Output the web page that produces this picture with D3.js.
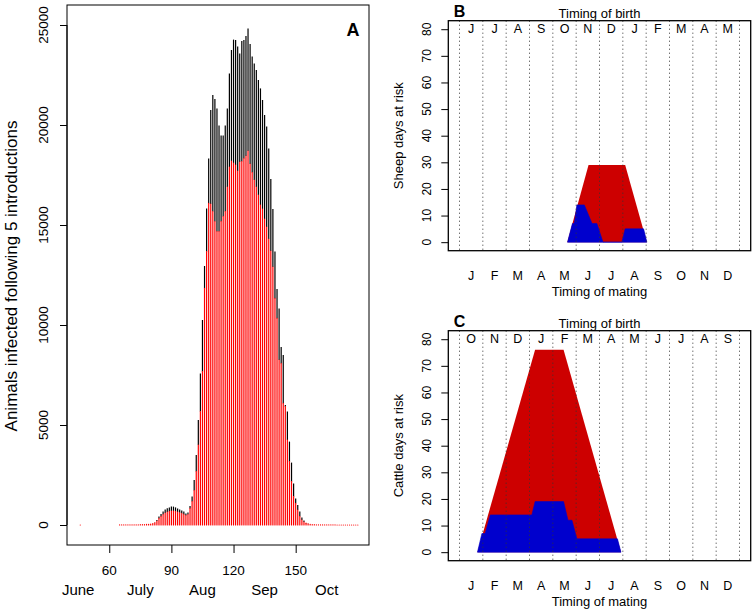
<!DOCTYPE html>
<html><head><meta charset="utf-8">
<script src="https://cdn.jsdelivr.net/npm/d3@7"></script>
<style>
body{margin:0;background:#fff}
svg{display:block}
text{font-family:"Liberation Sans",Arial,Helvetica,sans-serif;fill:#000}
</style>
</head><body>
<svg id="chart" width="754" height="612"></svg>
<script>
// ---------- Panel A data ----------
const loneDay = 46;
const loneValue = 0;
const firstDay = 65;
const totalInfected = [
  2,2,3,3,4,5,6,8,10,12,15,18,22,28,38,            // 65-79
  50,80,130,250,420,550,670,780,840,880,            // 80-89
  920,920,880,830,780,720,670,580,620,950,          // 90-99
  1420,2250,3500,5250,7580,10250,12950,15830,18330,20750, // 100-109
  21500,21300,20830,19980,19470,19470,19980,20830,22580,23750, // 110-119
  24270,24250,23920,23580,24200,24250,24450,24830,24050,23420, // 120-129
  23080,22750,22250,21830,21250,20500,19920,18830,17300,15800, // 130-139
  13670,11800,10830,8900,8500,6000,5670,4170,3120,2080,        // 140-149
  1330,1000,670,380,220,100,60,40,25,15,                       // 150-159
  10,8,6,5,4,3,3,2,2,2,1,1,1,1,1,1,1,1,1,1,1                   // 160-180
];
const redInfected = [
  2,2,3,3,4,5,6,8,10,12,15,18,22,27,35,
  45,70,110,200,330,430,520,600,650,680,
  700,700,680,650,610,570,530,470,520,830,
  1170,1720,2670,4000,5670,7670,11830,13670,16080,16050,
  15670,15170,14670,14670,15170,15420,15670,16900,17900,18200,
  18100,18000,17700,18150,18170,18330,18450,18700,18050,17620,
  17250,16900,16500,16000,15800,15300,14900,14300,13700,12900,
  11330,10330,8250,8080,6080,5920,4250,3170,2170,1420,
  1080,750,420,250,150,90,55,35,22,14,
  10,8,6,5,4,3,3,2,2,2,1,1,1,1,1,1,1,1,1,1,1
];
const dayTicks = [60, 90, 120, 150];
const countTicks = [0, 5000, 10000, 15000, 20000, 25000];
const monthLabelsA = ["June", "July", "Aug", "Sep", "Oct"];
const monthLabelDaysA = [45, 75, 105, 135, 165];

// ---------- Panels B & C data ----------
const matingMonths = ["J","F","M","A","M","J","J","A","S","O","N","D"];
const sheepBirthMonths = ["J","J","A","S","O","N","D","J","F","M","A","M"];
const cattleBirthMonths = ["O","N","D","J","F","M","A","M","J","J","A","S"];
const riskTicks = [0,10,20,30,40,50,60,70,80];

const sheepRedX  = [4.62, 5.53, 7.10, 8.03];
const sheepRedY  = [0, 29, 29, 0];
const sheepBlueX = [4.63, 4.84, 4.92, 5.03, 5.35, 5.68, 5.89, 6.15, 6.96, 7.10, 7.89, 8.03];
const sheepBlueY = [0, 7, 7, 14, 14, 7, 7, 0, 0, 5, 5, 0];

const cattleRedX  = [0.77, 3.24, 4.46, 6.92];
const cattleRedY  = [0, 76, 76, 0];
const cattleBlueX = [0.77, 0.96, 1.10, 1.32, 3.10, 3.24, 4.46, 4.65, 4.82, 5.03, 6.77, 6.92];
const cattleBlueY = [0, 7, 7, 14, 14, 19, 19, 12, 12, 5, 5, 0];

const svg = d3.select("#chart");

// ================= Panel A =================
(function(){
  const L = 67, R = 369, T = 5, B = 545;
  const x = d3.scaleLinear().domain([39.6, 185.4]).range([L, R]);
  const y = d3.scaleLinear().domain([-1000, 26000]).range([B, T]);
  const g = svg.append("g");

  const days = totalInfected.map((_, i) => firstDay + i);
  const bars = g.append("g").attr("stroke-width", 1.2);
  bars.selectAll("line.tot").data(days).join("line").attr("class", "tot")
    .attr("x1", d => x(d)).attr("x2", d => x(d))
    .attr("y1", (d, i) => y(Math.min(redInfected[i], totalInfected[i])))
    .attr("y2", (d, i) => y(totalInfected[i]))
    .attr("stroke", "#000");
  bars.selectAll("line.red").data(days).join("line").attr("class", "red")
    .attr("x1", d => x(d)).attr("x2", d => x(d))
    .attr("y1", y(0)).attr("y2", (d, i) => y(redInfected[i]))
    .attr("stroke", "#ff0000").attr("stroke-linecap", "round");
  bars.append("line")
    .attr("x1", x(loneDay)).attr("x2", x(loneDay))
    .attr("y1", y(0)).attr("y2", y(loneValue))
    .attr("stroke", "#ff0000").attr("stroke-linecap", "round");

  // box
  g.append("rect").attr("x", L).attr("y", T).attr("width", R - L).attr("height", B - T)
    .attr("fill", "none").attr("stroke", "#000").attr("stroke-width", 1);

  // left axis
  const ya = d3.axisLeft(y).tickValues(countTicks).tickSize(7).tickFormat("");
  const yg = g.append("g").attr("transform", `translate(${L},0)`).call(ya);
  yg.select(".domain").remove();
  yg.append("line").attr("x1", 0).attr("x2", 0).attr("y1", y(0)).attr("y2", y(25000)).attr("stroke", "#000");
  yg.selectAll(".tick line").attr("stroke", "#000");
  g.selectAll("text.yl").data(countTicks).join("text")
    .attr("transform", d => `translate(43,${y(d)}) rotate(-90)`)
    .attr("text-anchor", "middle").attr("dominant-baseline", "central")
    .attr("font-size", 13.5).text(d => d);

  // bottom axis
  const xa = d3.axisBottom(x).tickValues(dayTicks).tickSize(8).tickFormat("");
  const xg = g.append("g").attr("transform", `translate(0,${B})`).call(xa);
  xg.select(".domain").remove();
  xg.selectAll(".tick line").attr("stroke", "#000");
  g.selectAll("text.xl").data(dayTicks).join("text")
    .attr("x", d => x(d)).attr("y", 570).attr("text-anchor", "middle")
    .attr("dominant-baseline", "central").attr("font-size", 13.5).text(d => d);
  g.selectAll("text.ml").data(monthLabelsA).join("text")
    .attr("x", (d, i) => x(monthLabelDaysA[i])).attr("y", 589).attr("text-anchor", "middle")
    .attr("dominant-baseline", "central").attr("font-size", 15).text(d => d);

  g.append("text").attr("transform", `translate(11,${(T + B) / 2 + 1}) rotate(-90)`)
    .attr("text-anchor", "middle").attr("dominant-baseline", "central")
    .attr("font-size", 17).text("Animals infected following 5 introductions");

  g.append("text").attr("x", 353).attr("y", 30).attr("text-anchor", "middle")
    .attr("dominant-baseline", "central").attr("font-size", 18).attr("font-weight", "bold").text("A");
})();

// ================= Panels B & C =================
function riskPanel(off, label, birthMonths, ytitle, redX, redY, blueX, blueY) {
  const L = 448.3, R = 750.7, T = 20.7 + off, B = 250.7 + off;
  const x = d3.scaleLinear().domain([-0.48, 12.48]).range([L, R]);
  const y = d3.scaleLinear().domain([-3.2, 83.2]).range([B, T]);
  const g = svg.append("g");
  const area = d3.line().x(d => x(d[0])).y(d => y(d[1]));

  g.append("path").attr("d", area(redX.map((v, i) => [v, redY[i]])) + "Z")
    .attr("fill", "#cd0000").attr("stroke", "none");
  g.append("path").attr("d", area(blueX.map((v, i) => [v, blueY[i]])) + "Z")
    .attr("fill", "#0000cd").attr("stroke", "#0000cd").attr("stroke-width", 0.6);

  // dotted month lines
  g.selectAll("line.grid").data(d3.range(0, 13)).join("line")
    .attr("x1", d => x(d)).attr("x2", d => x(d)).attr("y1", T).attr("y2", B)
    .attr("stroke", "#333").attr("stroke-width", 1).attr("stroke-dasharray", "1,3");

  g.append("rect").attr("x", L).attr("y", T).attr("width", R - L).attr("height", B - T)
    .attr("fill", "none").attr("stroke", "#000").attr("stroke-width", 1.3);

  // birth months inside at top
  g.selectAll("text.bm").data(birthMonths).join("text")
    .attr("x", (d, i) => x(i + 0.5)).attr("y", y(80)).attr("text-anchor", "middle")
    .attr("dominant-baseline", "central").attr("font-size", 12.5).text(d => d);
  // mating months below
  g.selectAll("text.mm").data(matingMonths).join("text")
    .attr("x", (d, i) => x(i + 0.5)).attr("y", B + 25.5).attr("text-anchor", "middle")
    .attr("dominant-baseline", "central").attr("font-size", 12.5).text(d => d);

  // y axis
  const ya = d3.axisLeft(y).tickValues(riskTicks).tickSize(7).tickFormat("");
  const yg = g.append("g").attr("transform", `translate(${L},0)`).call(ya);
  yg.select(".domain").remove();
  yg.selectAll(".tick line").attr("stroke", "#000");
  g.selectAll("text.yl").data(riskTicks).join("text")
    .attr("transform", d => `translate(426.5,${y(d)}) rotate(-90)`)
    .attr("text-anchor", "middle").attr("dominant-baseline", "central")
    .attr("font-size", 12).text(d => d);

  g.append("text").attr("transform", `translate(398,${(T + B) / 2}) rotate(-90)`)
    .attr("text-anchor", "middle").attr("dominant-baseline", "central")
    .attr("font-size", 13).text(ytitle);
  g.append("text").attr("x", (L + R) / 2).attr("y", T - 7.5).attr("text-anchor", "middle")
    .attr("dominant-baseline", "central").attr("font-size", 13).text("Timing of birth");
  g.append("text").attr("x", (L + R) / 2).attr("y", B + 40.5).attr("text-anchor", "middle")
    .attr("dominant-baseline", "central").attr("font-size", 13).text("Timing of mating");
  g.append("text").attr("x", 459.5).attr("y", T - 9).attr("text-anchor", "middle")
    .attr("dominant-baseline", "central").attr("font-size", 16).attr("font-weight", "bold").text(label);
}
riskPanel(0, "B", sheepBirthMonths, "Sheep days at risk", sheepRedX, sheepRedY, sheepBlueX, sheepBlueY);
riskPanel(310, "C", cattleBirthMonths, "Cattle days at risk", cattleRedX, cattleRedY, cattleBlueX, cattleBlueY);
</script>
</body></html>
